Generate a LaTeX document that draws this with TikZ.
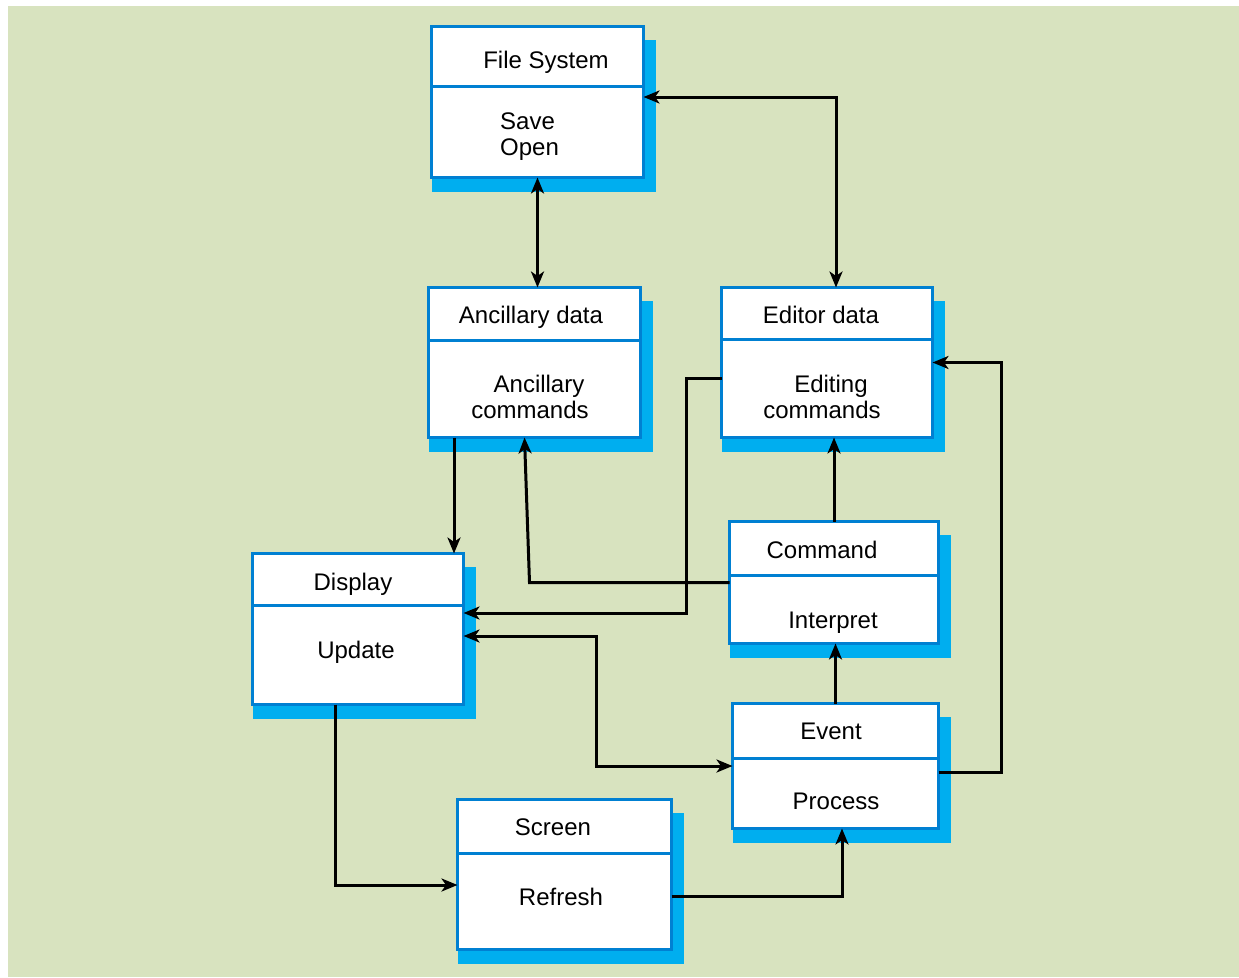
\documentclass[tikz,border=0pt]{standalone}
\usepackage{fontspec}
\setmainfont{Liberation Sans}
\usetikzlibrary{arrows.meta,calc,backgrounds}

\definecolor{bggreen}{RGB}{216,227,191}
\definecolor{boxblue}{RGB}{0,128,210}
\definecolor{shadowcyan}{RGB}{0,174,239}

\begin{document}
\begin{tikzpicture}[x=1pt,y=-1pt,
    box/.style ={rectangle, draw=boxblue, line width=3pt, fill=white, inner sep=0pt, outer sep=0pt},
    divider/.style ={draw=boxblue, line width=3pt},
    txt/.style ={anchor=base, inner sep=0pt, font=\fontsize{24}{26}\selectfont},
    arr/.style ={line width=3pt, -{Stealth[length=16pt,width=13pt,inset=4.5pt]}},
    barr/.style ={line width=3pt, {Stealth[length=16pt,width=13pt,inset=4.5pt]}-{Stealth[length=16pt,width=13pt,inset=4.5pt]}}]
   \useasboundingbox (0,0) rectangle (1239,977);

   % boxes
   \node[box, minimum width=212pt, minimum height=151pt] (fs)   at (537.5,102)   {};
   \node[box, minimum width=212pt, minimum height=150pt] (anc)  at (534.5,362.5) {};
   \node[box, minimum width=211pt, minimum height=150pt] (ed)   at (827,362.5)   {};
   \node[box, minimum width=211pt, minimum height=151pt] (disp) at (358,629)     {};
   \node[box, minimum width=209pt, minimum height=122pt] (cmd)  at (834,582.5)   {};
   \node[box, minimum width=206pt, minimum height=125pt] (ev)   at (835.5,766)   {};
   \node[box, minimum width=214pt, minimum height=150pt] (scr)  at (564.5,874.5) {};

   \begin{scope}[on background layer]
     \fill[bggreen] (8,6) rectangle (1239,977);
     \foreach \b in {fs,anc,ed,disp,cmd,ev,scr}
       \fill[shadowcyan] ($(\b.north west)+(0,13)$) rectangle ($(\b.south east)+(12.5,14.5)$);
   \end{scope}

   \foreach \b/\d in {fs/59.5,anc/52.5,ed/51.5,disp/51.5,cmd/53.5,ev/54.5,scr/53.5}
     \draw[divider] ($(\b.north west)+(0,\d)$) -- ($(\b.north east)+(0,\d)$);

   % texts
   \node[txt] (fs-title)   at (546,68)  {File System};
   \node[txt, anchor=base west, align=left] (fs-ops) at (500,155) {Save\\Open};
   \node[txt] (anc-title)  at (531,323) {Ancillary data};
   \node[txt, align=center] (anc-ops) at (530,418) {\hspace*{18pt}Ancillary\\commands};
   \node[txt] (ed-title)   at (821,323) {Editor data};
   \node[txt, align=center] (ed-ops) at (822,418) {\hspace*{18pt}Editing\\commands};
   \node[txt] (disp-title) at (353,590) {Display};
   \node[txt] (disp-ops)   at (356,658) {Update};
   \node[txt] (cmd-title)  at (822,558) {Command};
   \node[txt] (cmd-ops)    at (833,628) {Interpret};
   \node[txt] (ev-title)   at (831,739) {Event};
   \node[txt] (ev-ops)     at (836,809) {Process};
   \node[txt] (scr-title)  at (553,835) {Screen};
   \node[txt] (scr-ops)    at (561,905) {Refresh};

   % connectors
   \draw[barr] (fs.south) -- (fs.south |- anc.north);
   \draw[barr] ([yshift=5pt]fs.east) -| ([xshift=9pt]ed.north);
   \draw[arr] ([xshift=-80.5pt]anc.south) -- ([xshift=-80.5pt]anc.south |- disp.north);
   \draw[arr] ([yshift=-15.5pt]ed.west) -- ++(-35,0) |- ([yshift=16pt]disp.east);
   \draw[arr] (cmd.west) -- ++(-200,0) -- ([xshift=-10pt]anc.south);
   \draw[arr] (cmd.north) -- (cmd.north |- ed.south);
   \draw[arr] (ev.north) -- (ev.north |- cmd.south);
   \draw[arr] ([yshift=-6pt]ev.east) -- ++(63,0) |- (ed.east);
   \draw[barr] ([yshift=-7pt]disp.east) -- ++(133,0) |- (ev.west);
   \draw[arr] ([xshift=-23pt]disp.south) |- ([yshift=-10.5pt]scr.west);
   \draw[arr] ([yshift=-21.5pt]scr.east) -| ([xshift=6.5pt]ev.south);
 \end{tikzpicture}
\end{document}
